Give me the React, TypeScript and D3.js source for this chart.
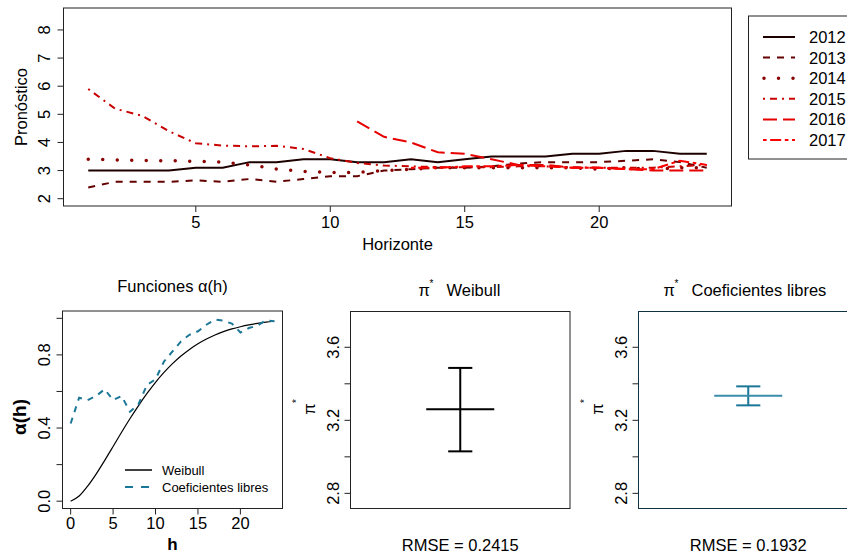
import React, { useEffect, useRef } from "react";
import * as d3 from "d3";

// forecast by horizon, one array per year (null = no forecast)
const horizons = [1, 2, 3, 4, 5, 6, 7, 8, 9, 10, 11, 12, 13, 14, 15, 16, 17, 18, 19, 20, 21, 22, 23, 24];
const years = ["2012", "2013", "2014", "2015", "2016", "2017"];
const f2012 = [3.0, 3.0, 3.0, 3.0, 3.1, 3.1, 3.3, 3.3, 3.4, 3.4, 3.3, 3.3, 3.4, 3.3, 3.4, 3.5, 3.5, 3.5, 3.6, 3.6, 3.7, 3.7, 3.6, 3.6];
const f2013 = [2.4, 2.6, 2.6, 2.6, 2.65, 2.6, 2.7, 2.6, 2.7, 2.8, 2.8, 3.0, 3.05, 3.1, 3.1, 3.15, 3.25, 3.3, 3.3, 3.3, 3.35, 3.4, 3.3, 3.1];
const f2014 = [3.4, 3.38, 3.36, 3.35, 3.33, 3.3, 3.2, 3.05, 2.97, 2.93, 2.93, 3.0, 3.05, 3.1, 3.1, 3.1, 3.1, 3.1, 3.1, 3.05, 3.1, 3.05, 3.1, 3.1];
const f2015 = [5.9, 5.2, 4.95, 4.4, 3.97, 3.89, 3.86, 3.88, 3.77, 3.44, 3.27, 3.18, 3.15, 3.12, 3.12, 3.12, 3.15, 3.15, 3.12, 3.1, 3.1, 3.1, 3.15, 3.2];
const f2016 = [null, null, null, null, null, null, null, null, null, null, 4.75, 4.2, 4.0, 3.65, 3.6, 3.4, 3.2, 3.2, 3.1, 3.1, 3.05, 3.0, 3.0, 3.0];
const f2017 = [null, null, null, null, null, null, null, null, null, null, null, null, 3.1, 3.1, 3.15, 3.15, 3.2, 3.15, 3.1, 3.1, 3.05, 3.05, 3.35, 3.2];
const forecasts = [f2012, f2013, f2014, f2015, f2016, f2017];
const yearColors = ["#1c0000", "#640000", "#8b0000", "#c80000", "#e60000", "#ff0000"];
const yearDashes = ["none", "7 7", "0 14.5", "2 5 7 5", "14 6", "3.6 3.6 11 3.6"];
const topXTicks = [5, 10, 15, 20];
const topYTicks = [2, 3, 4, 5, 6, 7, 8];

// alpha(h) functions
const hValues = [0, 1, 2, 3, 4, 5, 6, 7, 8, 9, 10, 11, 12, 13, 14, 15, 16, 17, 18, 19, 20, 21, 22, 23, 24];
const alphaWeibull = [0, 0.028, 0.082, 0.148, 0.222, 0.299, 0.377, 0.452, 0.523, 0.589, 0.65, 0.704, 0.752, 0.794, 0.83, 0.861, 0.887, 0.909, 0.927, 0.942, 0.954, 0.964, 0.972, 0.979, 0.984];
const alphaLibres = [0.425, 0.566, 0.553, 0.575, 0.612, 0.553, 0.575, 0.489, 0.531, 0.636, 0.667, 0.764, 0.819, 0.874, 0.91, 0.929, 0.965, 0.993, 0.987, 0.971, 0.923, 0.947, 0.96, 0.989, 0.984];
const alphaXTicks = [0, 5, 10, 15, 20];
const alphaYTicks = [0, 0.2, 0.4, 0.6, 0.8, 1.0];
const alphaYLabeled = [0, 0.4, 0.8];

// pi* estimates: [lower, estimate, upper]
const piWeibull = [3.03, 3.26, 3.487];
const piLibres = [3.282, 3.335, 3.386];
const piTicks = [2.8, 3.0, 3.2, 3.4, 3.6];
const piLabeled = [2.8, 3.2, 3.6];
const rmse = ["RMSE = 0.2415", "RMSE = 0.1932"];

const teal = "#1b7797";
const font = "'Liberation Sans', Arial, Helvetica, sans-serif";

const App = () => {
  const svgRef = useRef(null);

  useEffect(() => {
    const svg = d3.select(svgRef.current);
    svg.selectAll("*").remove();
    svg.attr("width", 847).attr("height", 554).style("font-family", font);

    svg.append("rect").attr("width", 847).attr("height", 554).attr("fill", "#fff");

    const text = (x, y, s, size = 16.5, anchor = "middle", rot = 0, weight = "normal") =>
      svg
        .append("text")
        .attr("x", x)
        .attr("y", y)
        .attr("font-size", size)
        .attr("font-weight", weight)
        .attr("text-anchor", anchor)
        .attr("fill", "#000")
        .attr("transform", rot ? `rotate(${rot},${x},${y})` : null)
        .text(s);

    const box = (x0, x1, y0, y1, color = "#222") =>
      svg
        .append("rect")
        .attr("x", x0)
        .attr("y", y0)
        .attr("width", x1 - x0)
        .attr("height", y1 - y0)
        .attr("fill", "none")
        .attr("stroke", color)
        .attr("stroke-width", 1);

    const yTicks = (y, ticks, labeled, left, labelX, fmt) => {
      ticks.forEach((t) => {
        svg.append("line").attr("x1", left - 6).attr("x2", left).attr("y1", y(t)).attr("y2", y(t)).attr("stroke", "#222");
      });
      labeled.forEach((t) => text(labelX, y(t), fmt(t), 16.5, "middle", -90));
    };

    const xTicks = (x, ticks, bottom, labelY) => {
      ticks.forEach((t) => {
        svg.append("line").attr("x1", x(t)).attr("x2", x(t)).attr("y1", bottom).attr("y2", bottom + 6).attr("stroke", "#222");
        text(x(t), labelY, String(t));
      });
    };

    // ---- top: forecasts by horizon
    const x = d3.scaleLinear().domain([0.08, 24.92]).range([63.5, 731.5]);
    const y = d3.scaleLinear().domain([1.74, 8.78]).range([206, 8]);

    const line = d3
      .line()
      .defined((d) => d[1] != null)
      .x((d) => x(d[0]))
      .y((d) => y(d[1]));

    forecasts.forEach((vals, i) => {
      svg
        .append("path")
        .datum(horizons.map((h, j) => [h, vals[j]]))
        .attr("d", line)
        .attr("fill", "none")
        .attr("stroke", yearColors[i])
        .attr("stroke-width", i === 2 ? 3.5 : 2)
        .attr("stroke-linecap", i === 2 ? "round" : "butt")
        .attr("stroke-dasharray", yearDashes[i]);
    });

    box(63.5, 731.5, 8, 206);
    xTicks(x, topXTicks, 206, 227.5);
    yTicks(y, topYTicks, topYTicks, 63.5, 50, (t) => String(t));
    text(397.5, 250, "Horizonte");
    text(27, 107, "Pronóstico", 16.5, "middle", -90);

    // legend
    box(748.5, 870, 16, 159);
    years.forEach((yr, i) => {
      const ly = 37 + i * 20.6;
      svg
        .append("line")
        .attr("x1", 763)
        .attr("x2", 795)
        .attr("y1", ly)
        .attr("y2", ly)
        .attr("stroke", yearColors[i])
        .attr("stroke-width", i === 2 ? 3.5 : 2)
        .attr("stroke-linecap", i === 2 ? "round" : "butt")
        .attr("stroke-dasharray", i === 2 ? "0 14.5" : yearDashes[i] === "none" ? null : yearDashes[i])
        .attr("stroke-dashoffset", i === 2 ? -1 : 0);
      text(809, ly + 6, yr, 16.5, "start");
    });

    // ---- bottom left: alpha(h)
    const ax = d3.scaleLinear().domain([-0.96, 24.96]).range([62.5, 282.5]);
    const ay = d3.scaleLinear().domain([-0.04, 1.04]).range([508.5, 311]);
    const aline = (vals, curve) =>
      d3
        .line()
        .x((d, i) => ax(hValues[i]))
        .y((d) => ay(d))
        .curve(curve)(vals);

    svg.append("path").attr("d", aline(alphaWeibull, d3.curveMonotoneX)).attr("fill", "none").attr("stroke", "#000").attr("stroke-width", 1.2);
    svg
      .append("path")
      .attr("d", aline(alphaLibres, d3.curveLinear))
      .attr("fill", "none")
      .attr("stroke", teal)
      .attr("stroke-width", 2)
      .attr("stroke-dasharray", "6 6");

    box(62.5, 282.5, 311, 508.5);
    xTicks(ax, alphaXTicks, 508.5, 529);
    yTicks(ay, alphaYTicks, alphaYLabeled, 62.5, 50, (t) => t.toFixed(1));
    text(172.5, 291.5, "Funciones α(h)");
    text(26, 417, "α(h)", 19, "middle", -90, "bold");
    text(172.5, 550, "h", 17, "middle", 0, "bold");

    svg.append("line").attr("x1", 125).attr("x2", 152).attr("y1", 470).attr("y2", 470).attr("stroke", "#000").attr("stroke-width", 1.5);
    svg.append("line").attr("x1", 125).attr("x2", 152).attr("y1", 487).attr("y2", 487).attr("stroke", teal).attr("stroke-width", 2).attr("stroke-dasharray", "8 8");
    text(162, 475, "Weibull", 13, "start");
    text(162, 492, "Coeficientes libres", 13, "start");

    // ---- bottom middle/right: pi* with interval
    const py = d3.scaleLinear().domain([2.717, 3.796]).range([508.5, 311.5]);
    const piPanel = (x0, x1, vals, color, barColor, frame, title, titleX, note) => {
      const px = d3.scaleLinear().domain([0, 2]).range([x0, x1]);
      const [lo, est, hi] = vals;
      svg.append("line").attr("x1", px(1)).attr("x2", px(1)).attr("y1", py(lo)).attr("y2", py(hi)).attr("stroke", color).attr("stroke-width", 2);
      [lo, hi].forEach((v) =>
        svg.append("line").attr("x1", px(0.89)).attr("x2", px(1.11)).attr("y1", py(v)).attr("y2", py(v)).attr("stroke", color).attr("stroke-width", 2)
      );
      svg.append("line").attr("x1", px(0.69)).attr("x2", px(1.31)).attr("y1", py(est)).attr("y2", py(est)).attr("stroke", barColor).attr("stroke-width", 2);
      box(x0, x1, 311.5, 508.5, frame);
      yTicks(py, piTicks, piLabeled, x0, x0 - 11, (t) => t.toFixed(1));
      // y label pi*
      text(x0 - 36, 409, "π", 16.5, "middle", -90);
      text(x0 - 51, 401, "*", 10, "middle", -90);
      // title
      text(titleX, 296, "π", 16.5, "start");
      text(titleX + 11, 287, "*", 10, "start");
      text(titleX + 28, 296, title, 16.5, "start");
      text(px(1), 551, note);
    };

    piPanel(350.5, 570, piWeibull, "#000", "#000", "#222", "Weibull", 418.5, rmse[0]);
    piPanel(638.5, 858, piLibres, teal, "#3a8cab", "#0f3344", "Coeficientes libres", 663.5, rmse[1]);
  }, []);

  return <svg ref={svgRef} style={{ position: "absolute", left: 0, top: 0 }}></svg>;
};

export default App;
